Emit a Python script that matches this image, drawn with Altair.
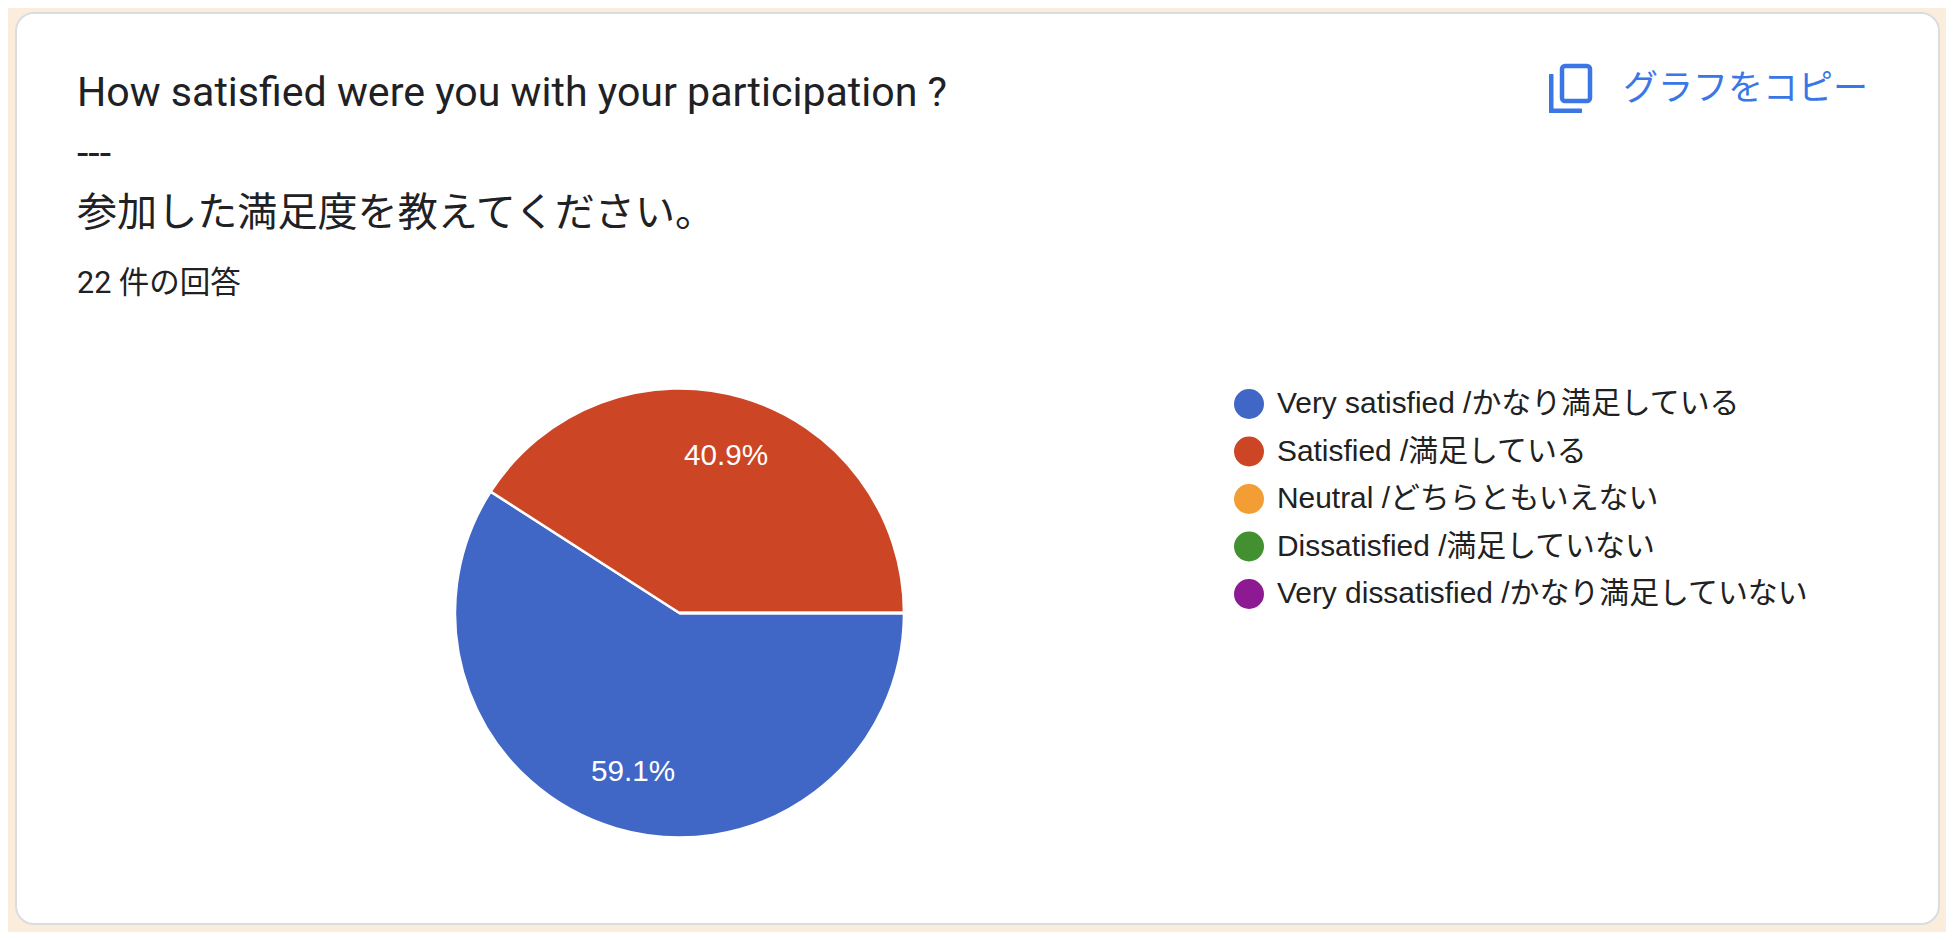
import math
import altair as alt
import pandas as pd

categories = ["Very satisfied /かなり満足している", "Satisfied /満足している", "Neutral /どちらともいえない",
              "Dissatisfied /満足していない", "Very dissatisfied /かなり満足していない"]
responses = [13, 9, 0, 0, 0]
colors = ["#4067c5", "#cc4626", "#f39d35", "#429030", "#8d1a92"]
title_en = "How satisfied were you with your participation ?"
title_sep = "---"
title_ja = "参加した満足度を教えてください。"
count_label = "22 件の回答"
copy_label = "グラフをコピー"

W, H = 1938, 924
OX, OY = 8, 8
total = sum(responses)
labels = [f"{v / total * 100:.1f}%" if v else "" for v in responses]
df = pd.DataFrame({"cat": categories, "n": responses, "label": labels, "ord": range(5)})
one = pd.DataFrame({"k": [0]})


def px(v):
    return alt.value(v - OX)


def py(v):
    return alt.value(v - OY)


def box(x1, x2, y1, y2, **kw):
    return alt.Chart(one).mark_rect(**kw).encode(x=px(x1), x2=px(x2), y=py(y1), y2=py(y2))


def label(text, x, y, size, color="#202124", font="Roboto, 'Noto Sans CJK JP'", **kw):
    return alt.Chart(one).mark_text(align="left", baseline="middle", fontSize=size, font=font,
                                    color=color, **kw).encode(x=px(x), y=py(y), text=alt.value(text))


card = box(16, 1939, 13, 924, fill="#ffffff", stroke="#dadce0", strokeWidth=2, cornerRadius=18)

icon_color = "#3b76e6"
icon = (
    box(1562, 1590, 66, 101, fill="#ffffff", stroke=icon_color, strokeWidth=4.5, cornerRadius=3)
    + box(1549, 1553.5, 74, 113, fill=icon_color, cornerRadius=1)
    + box(1549, 1582, 108.5, 113, fill=icon_color, cornerRadius=1)
)

theta = alt.Theta("n:Q", stack=True,
                  scale=alt.Scale(domain=[0, total], range=[math.pi / 2, math.pi / 2 + 2 * math.pi]))
base = alt.Chart(df).encode(theta=theta, order=alt.Order("ord:Q"), x=px(679.5), y=py(613))

pie = base.mark_arc(outerRadius=224.5, stroke="#ffffff", strokeWidth=2.5).encode(
    color=alt.Color(
        "cat:N",
        scale=alt.Scale(domain=categories, range=colors),
        sort=categories,
        legend=alt.Legend(
            title=None, orient="none", legendX=1234 - OX, legendY=389 - OY,
            symbolType="circle", symbolSize=900, symbolStrokeWidth=0, symbolOpacity=1,
            labelFont="'Liberation Sans', 'Noto Sans CJK JP'", labelFontSize=29.9,
            labelColor="#212121", labelOffset=13, labelLimit=700, rowPadding=17.5,
            padding=0,
        ),
    )
)
pie_text = base.mark_text(radius=165, fontSize=29.7, color="#ffffff", dy=1,
                          font="'Liberation Sans', sans-serif").encode(text="label:N")

chart = (
    alt.layer(
        card,
        label(title_en, 77, 94, 41.1),
        label(title_sep, 77, 155, 41.1),
        label(title_ja, 77, 214, 40.1),
        label(count_label, 77, 284, 30.5),
        icon,
        label(copy_label, 1623, 89, 35, color=icon_color),
        pie,
        pie_text,
    )
    .properties(width=W, height=H, background="#faeddc", padding=0,
                autosize=alt.AutoSizeParams(type="none"))
    .configure_view(strokeWidth=0)
)

chart.save("out.html", embed_options={"renderer": "svg", "actions": False})
